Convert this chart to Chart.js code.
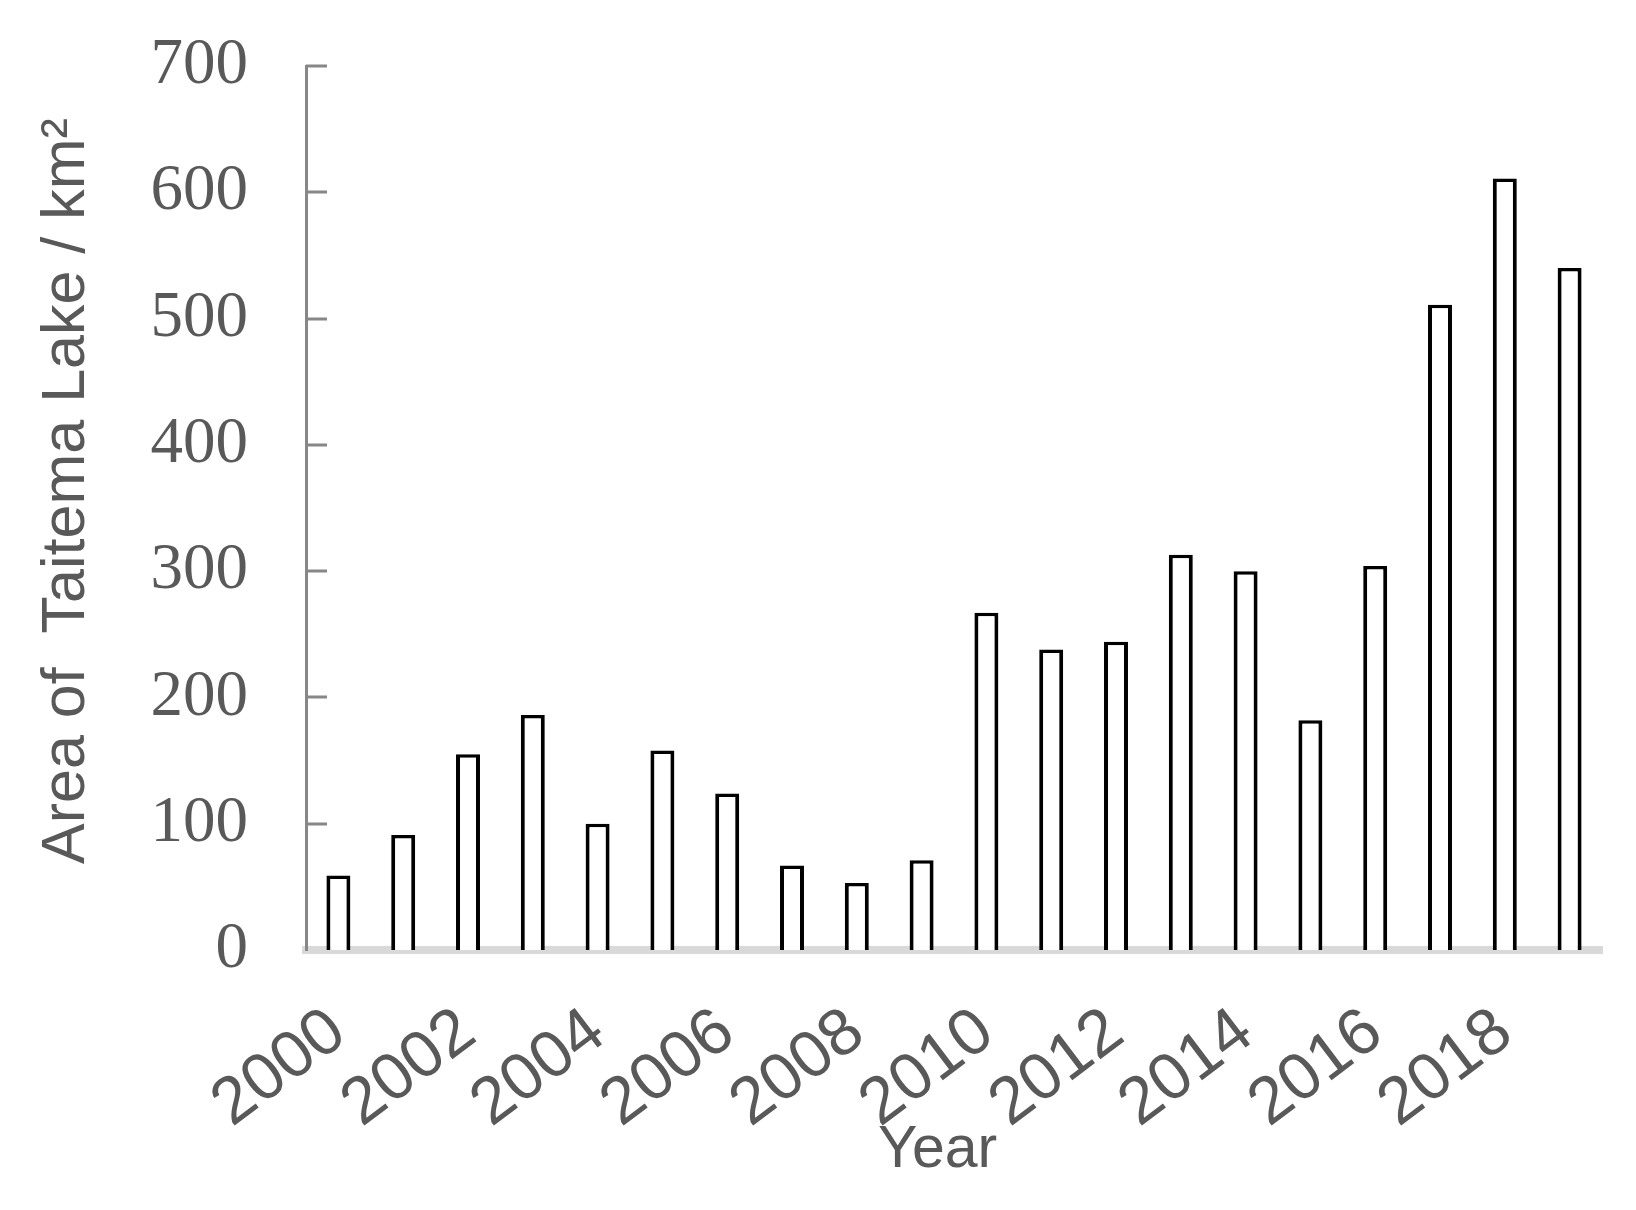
<!DOCTYPE html>
<html>
<head>
<meta charset="utf-8">
<script src="https://cdn.jsdelivr.net/npm/chart.js@4"></script>
<style>
  html, body { margin: 0; padding: 0; background: #fff; }
  #wrap { width: 1636px; height: 1210px; }
</style>
</head>
<body>
<div id="wrap"><canvas id="lakeChart" width="1636" height="1210"></canvas></div>
<script>
const years = ["2000", "2001", "2002", "2003", "2004", "2005", "2006", "2007", "2008", "2009",
               "2010", "2011", "2012", "2013", "2014", "2015", "2016", "2017", "2018", "2019"];
const areas = [59, 91, 155, 186, 100, 158, 124, 67, 53, 71,
               267, 238, 244, 313, 300, 182, 304, 511, 611, 540];
const yTicks = [0, 100, 200, 300, 400, 500, 600, 700];

// short tick marks on the inner side of the y axis
const innerTicks = {
  id: "innerTicks",
  afterDraw(chart) {
    const y = chart.scales.y;
    const c = chart.ctx;
    c.save();
    c.strokeStyle = "#878787";
    c.lineWidth = 3;
    yTicks.forEach(v => {
      if (v === 0) return;
      const py = Math.round(y.getPixelForValue(v));
      c.beginPath();
      c.moveTo(y.right, py);
      c.lineTo(y.right + 21, py);
      c.stroke();
    });
    c.restore();
  }
};

const ctx = document.getElementById("lakeChart").getContext("2d");
new Chart(ctx, {
  type: "bar",
  data: {
    labels: years,
    datasets: [{
      data: areas,
      backgroundColor: "#ffffff",
      borderColor: "#000000",
      borderWidth: { top: 3.5, left: 4, right: 4, bottom: 0 },
      barPercentage: 0.37,
      categoryPercentage: 1.0
    }]
  },
  options: {
    responsive: false,
    animation: false,
    layout: { padding: { left: 0, right: 34, top: 66, bottom: 0 } },
    plugins: { legend: { display: false }, tooltip: { enabled: false } },
    scales: {
      x: {
        grid: { display: false, drawTicks: false },
        border: { color: "#d9d9d9", width: 8 },
        afterFit(scale) {
          scale.height = 260;
          scale.paddingLeft = 0;
          scale.paddingRight = 0;
        },
        ticks: {
          autoSkip: false,
          minRotation: 37,
          maxRotation: 37,
          padding: 43,
          color: "#595959",
          font: { family: "'Liberation Sans', Arial, sans-serif", size: 66 },
          callback: function (v, i) { return i % 2 === 0 ? years[i] : ""; }
        },
        title: {
          display: true,
          text: "Year\u00a0\u00a0",
          color: "#595959",
          font: { family: "'Liberation Sans', Arial, sans-serif", size: 59 },
          padding: { top: 0, bottom: 24 }
        }
      },
      y: {
        min: 0,
        max: 700,
        grid: { display: false, drawTicks: false },
        border: { color: "#878787", width: 3 },
        afterFit(scale) {
          scale.width = 306;
          scale.paddingTop = 0;
          scale.paddingBottom = 0;
        },
        ticks: {
          stepSize: 100,
          padding: 58,
          color: "#595959",
          font: { family: "'Liberation Serif', 'Times New Roman', serif", size: 65 }
        },
        title: {
          display: true,
          text: "\u00a0\u00a0Area of  Taitema Lake / km\u00b2",
          color: "#595959",
          font: { family: "'Liberation Sans', Arial, sans-serif", size: 61 },
          padding: { top: 31, bottom: 0 }
        }
      }
    }
  },
  plugins: [innerTicks]
});
</script>
</body>
</html>
